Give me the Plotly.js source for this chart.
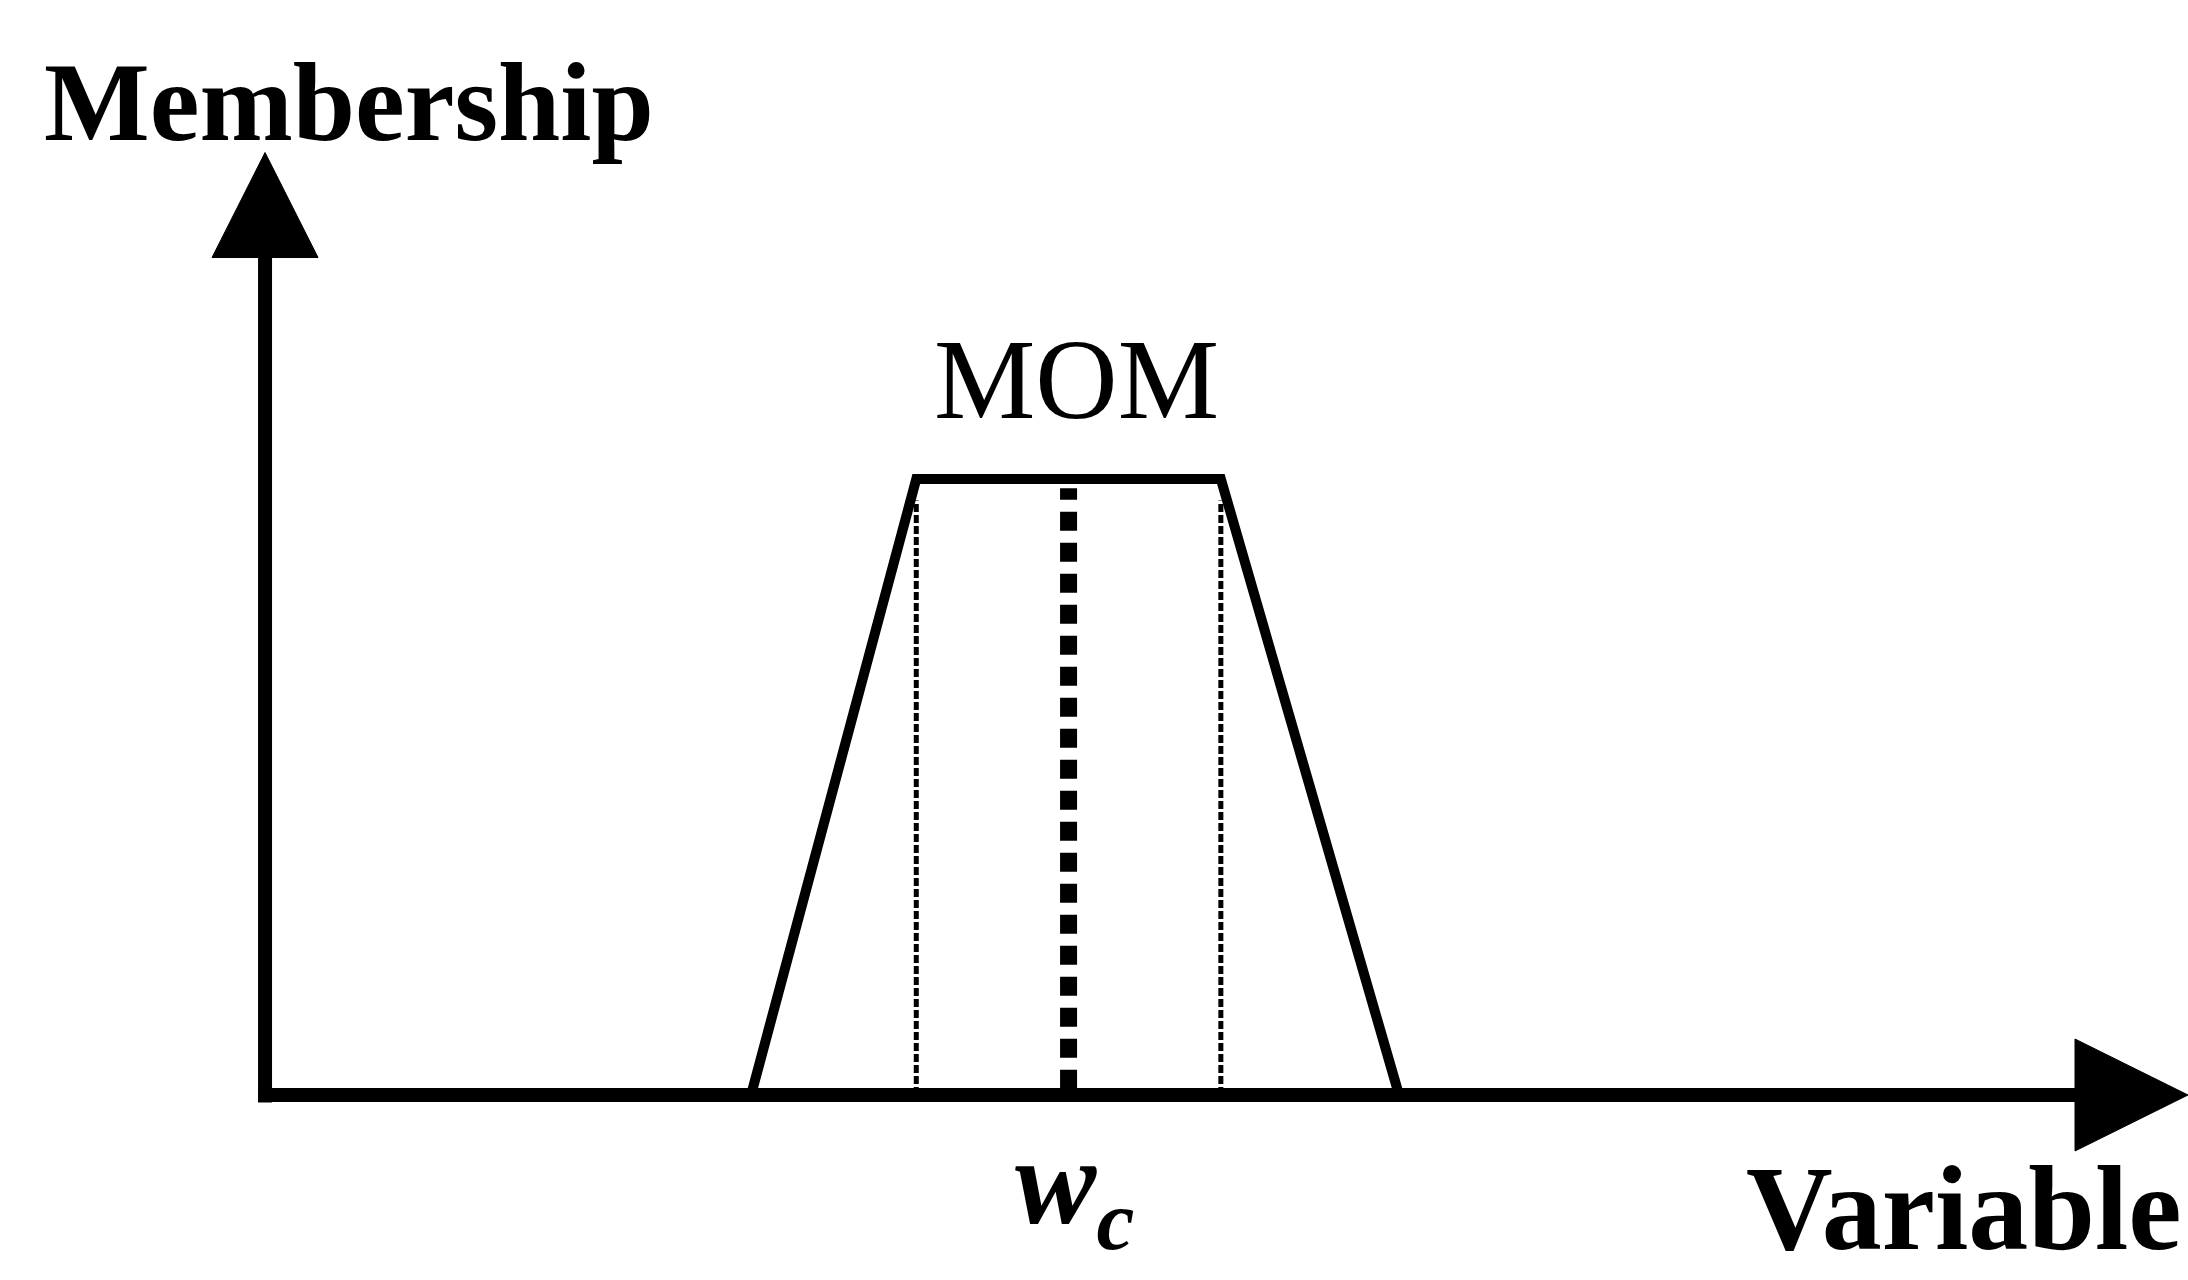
<!DOCTYPE html>
<html>
<head>
<meta charset="utf-8">
<script src="https://cdn.plot.ly/plotly-3.0.1.min.js"></script>
<style>
  html, body { margin: 0; padding: 0; background: #fff; }
  #chart { width: 2188px; height: 1280px; }
</style>
</head>
<body>
<div id="chart"></div>
<script>
// ---- Data ----
const trapX = [3.0, 4.02, 5.9, 7.0];      // trapezoid corners on the variable axis
const trapY = [0, 1, 1, 0];               // membership degrees
const maxEdgesX = [4.02, 5.9];            // thin dotted lines at edges of the maximum plateau
const momX = [4.96];                       // mean of maximum (w_c)
const axisXEnd = 11.87;                    // tip of the variable axis arrow
const axisYEnd = 1.53;                     // tip of the membership axis arrow
const labels = { y: 'Membership', x: 'Variable', top: 'MOM', wc: '<b><i>w<sub>c</sub></i></b>' };

// ---- Layout ranges ----
const W = 2188, H = 1280;
const xRange = [-1.636, 11.87];
const yRange = [-0.3003, 1.7776];
const pxX = W / (xRange[1] - xRange[0]);
const pxY = H / (yRange[1] - yRange[0]);

const black = '#000';
const traces = [];

// Y axis line
const yArrowLen = 105 / pxY, yArrowHalf = 53 / pxX;
traces.push({ x: [0, 0], y: [-0.012, axisYEnd - yArrowLen + 0.01], mode: 'lines',
  line: { color: black, width: 14 }, hoverinfo: 'skip' });
traces.push({ x: [-yArrowHalf, 0, yArrowHalf, -yArrowHalf],
  y: [axisYEnd - yArrowLen, axisYEnd, axisYEnd - yArrowLen, axisYEnd - yArrowLen],
  mode: 'lines', fill: 'toself', fillcolor: black, line: { color: black, width: 1 }, hoverinfo: 'skip' });

// X axis line
const xArrowLen = 113 / pxX, xArrowHalf = 56 / pxY;
traces.push({ x: [-0.04, axisXEnd - xArrowLen + 0.01], y: [0, 0], mode: 'lines',
  line: { color: black, width: 14 }, hoverinfo: 'skip' });
traces.push({ x: [axisXEnd - xArrowLen, axisXEnd, axisXEnd - xArrowLen, axisXEnd - xArrowLen],
  y: [-xArrowHalf, 0, xArrowHalf, -xArrowHalf],
  mode: 'lines', fill: 'toself', fillcolor: black, line: { color: black, width: 1 }, hoverinfo: 'skip' });

// Thin dotted lines at plateau edges
maxEdgesX.forEach(v => traces.push({ x: [v, v], y: [0, 0.965], mode: 'lines',
  line: { color: black, width: 5, dash: '8px,3px' }, hoverinfo: 'skip' }));

// Thick dotted MOM line
momX.forEach(v => traces.push({ x: [v, v], y: [0.01, 0.985], mode: 'lines',
  line: { color: black, width: 17, dash: '19px,12px' }, hoverinfo: 'skip' }));

// Trapezoid
traces.push({ x: trapX, y: trapY, mode: 'lines', line: { color: black, width: 10 }, hoverinfo: 'skip' });

const serif = '"Liberation Serif", "Times New Roman", serif';
const layout = {
  width: W, height: H,
  margin: { l: 0, r: 0, t: 0, b: 0 },
  paper_bgcolor: '#fff', plot_bgcolor: '#fff',
  showlegend: false,
  xaxis: { range: xRange, visible: false, fixedrange: true },
  yaxis: { range: yRange, visible: false, fixedrange: true },
  annotations: [
    { text: '<b>' + labels.y + '</b>', xref: 'paper', yref: 'paper', x: 42 / W, y: 1 - 102 / H,
      xanchor: 'left', yanchor: 'middle', showarrow: false, font: { family: serif, size: 112, color: black } },
    { text: '<b>' + labels.x + '</b>', xref: 'paper', yref: 'paper', x: 2184 / W, y: 1 - 1208 / H,
      xanchor: 'right', yanchor: 'middle', showarrow: false, font: { family: serif, size: 120, color: black } },
    { text: labels.top, x: momX[0], y: 1, yshift: 100, xshift: 8, xref: 'x', yref: 'y',
      xanchor: 'center', yanchor: 'middle', showarrow: false, font: { family: serif, size: 114, color: black } },
    { text: labels.wc, x: momX[0], y: 0, yshift: -95, xshift: 6, xref: 'x', yref: 'y',
      xanchor: 'center', yanchor: 'middle', showarrow: false, font: { family: serif, size: 122, color: black } }
  ]
};

Plotly.newPlot('chart', traces, layout, { displayModeBar: false, staticPlot: true });
</script>
</body>
</html>
